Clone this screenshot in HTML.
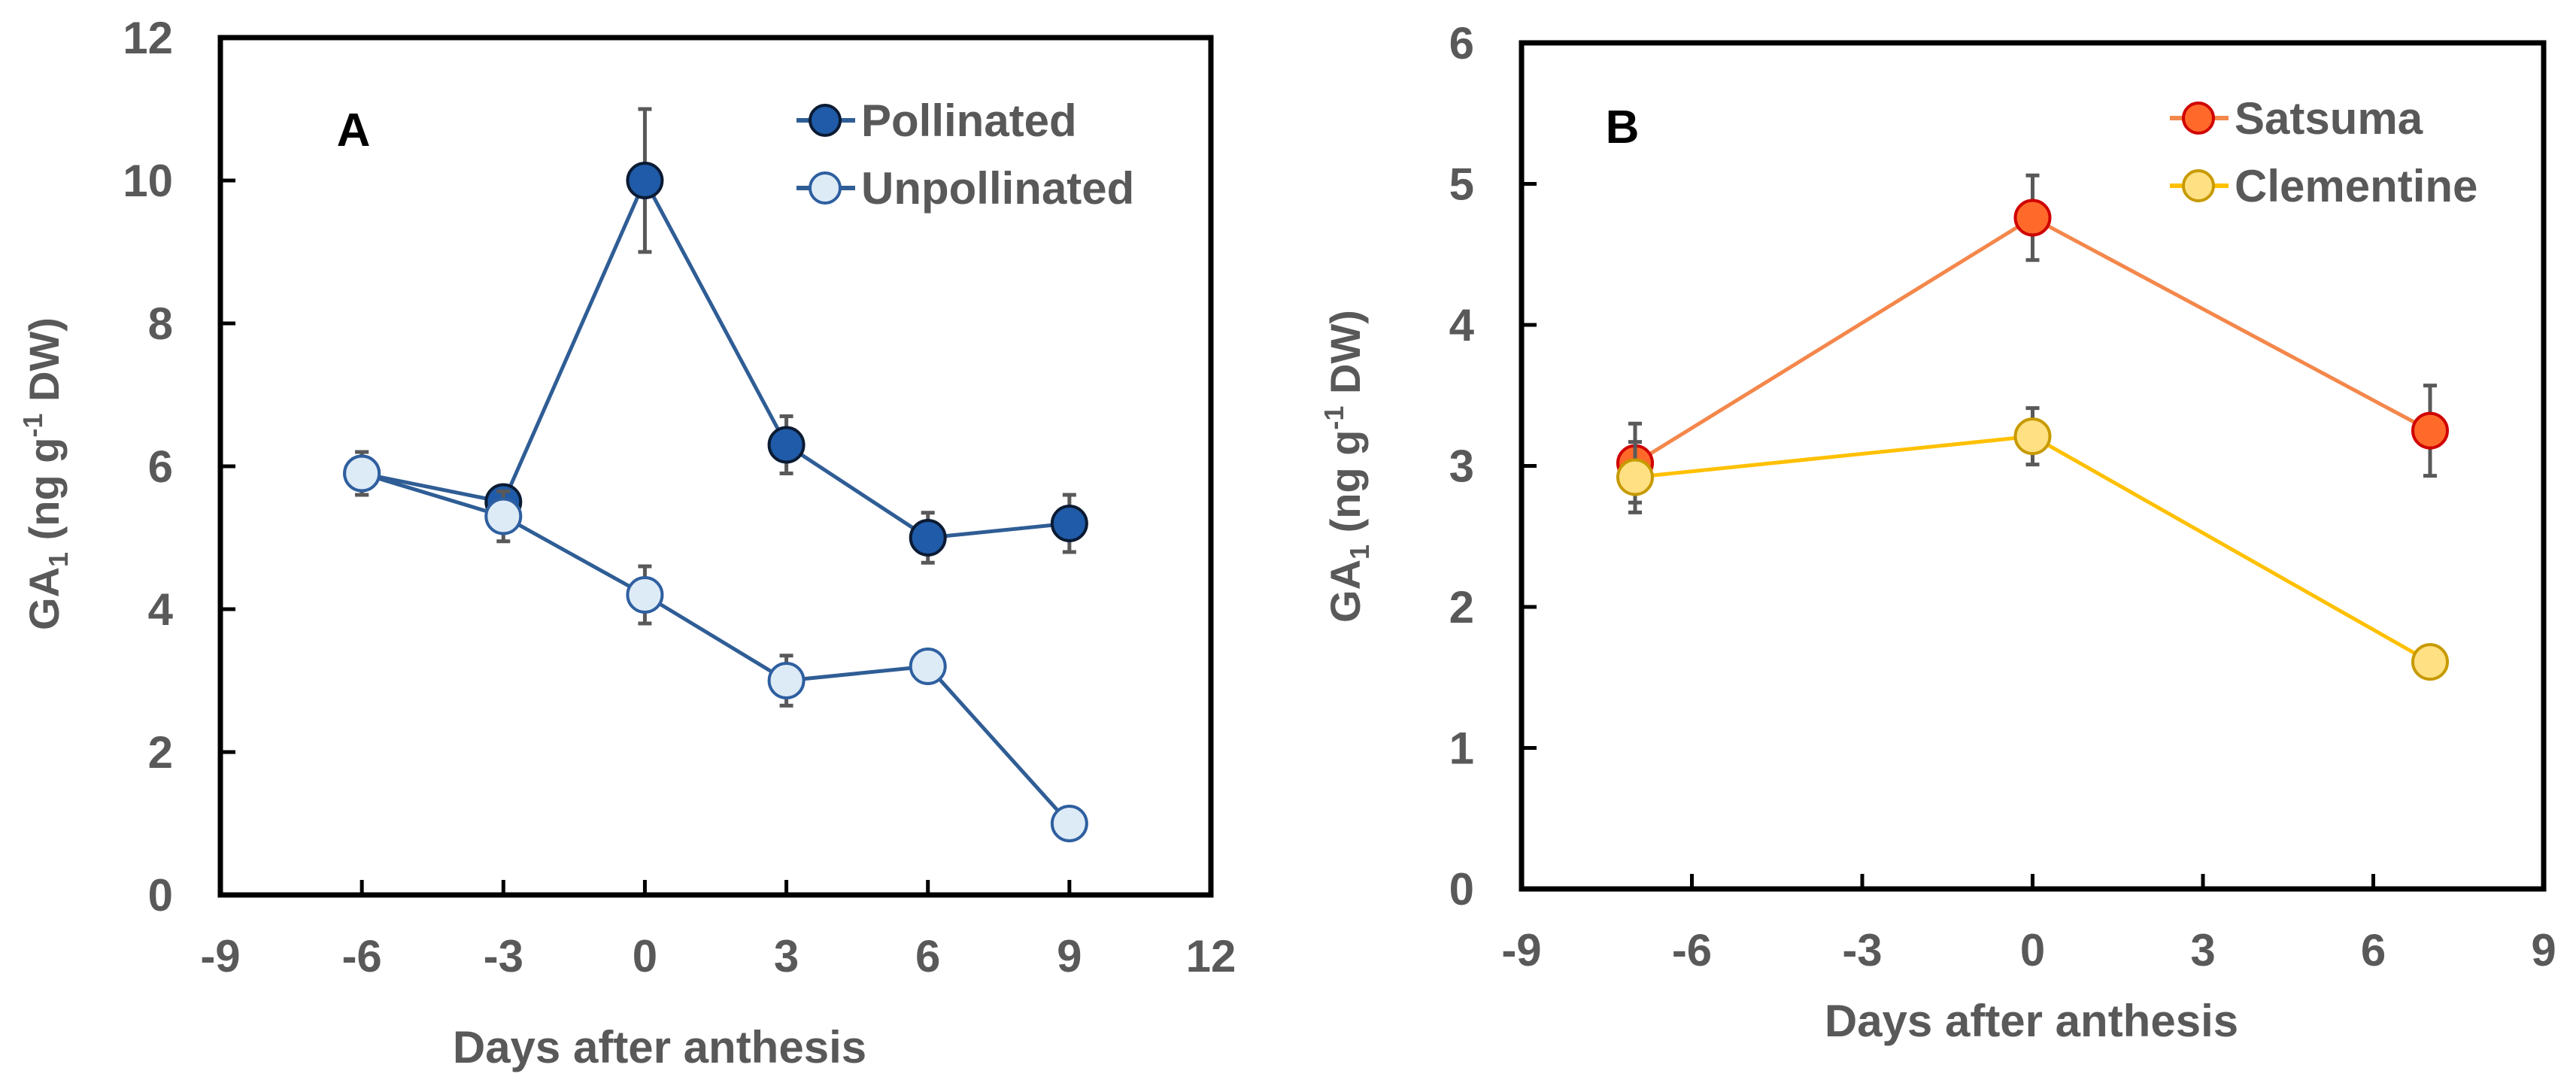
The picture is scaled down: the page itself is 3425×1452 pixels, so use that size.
<!DOCTYPE html>
<html><head><meta charset="utf-8"><style>
html,body{margin:0;padding:0;background:#fff;}
svg{display:block;font-family:"Liberation Sans",Arial,sans-serif;font-weight:bold;}
</style></head><body>
<svg id="chart" width="3425" height="1452" viewBox="0 0 3425 1452" xmlns="http://www.w3.org/2000/svg">
<g id="pA"></g>
<g id="pB"></g>
</svg>
<script>
// Panel A data
const daysA = [-6, -3, 0, 3, 6, 9];
const pollinated = [5.9, 5.5, 10.0, 6.3, 5.0, 5.2];
const pollinatedErr = [0.3, 0.15, 1.0, 0.4, 0.35, 0.4];
const unpollinated = [5.9, 5.3, 4.2, 3.0, 3.2, 1.0];
const unpollinatedErr = [0.3, 0.35, 0.4, 0.35, 0.1, 0.05];
const xTicksA = [-9, -6, -3, 0, 3, 6, 9, 12];
const yTicksA = [0, 2, 4, 6, 8, 10, 12];
// Panel B data
const daysB = [-7, 0, 7];
const satsuma = [3.02, 4.76, 3.25];
const satsumaErr = [0.28, 0.3, 0.32];
const clementine = [2.92, 3.21, 1.61];
const clementineErr = [0.25, 0.2, 0.03];
const xTicksB = [-9, -6, -3, 0, 3, 6, 9];
const yTicksB = [0, 1, 2, 3, 4, 5, 6];

const NS = "http://www.w3.org/2000/svg";
function mk(parent, tag, attrs, text) {
  const e = document.createElementNS(NS, tag);
  for (const k in attrs) e.setAttribute(k, attrs[k]);
  if (text !== undefined) e.textContent = text;
  parent.appendChild(e);
  return e;
}

function panel(g, cfg) {
  const sx = v => cfg.x0 + (v - cfg.xmin) / (cfg.xmax - cfg.xmin) * (cfg.x1 - cfg.x0);
  const sy = v => cfg.y0 - (v - cfg.ymin) / (cfg.ymax - cfg.ymin) * (cfg.y0 - cfg.y1);
  // frame
  const fr = mk(g, "rect", {x: cfg.x0, y: cfg.y1, width: cfg.x1 - cfg.x0, height: cfg.y0 - cfg.y1, fill: "none", stroke: "#000", "stroke-width": 7});
  
  
  cfg.xticks.forEach(t => {
    const x = sx(t);
    const tk = mk(g, "line", {x1: x, x2: x, y1: cfg.y0, y2: cfg.y0 - 20, stroke: "#000", "stroke-width": 5});
    
    
    const lb = mk(g, "text", {x: x, y: cfg.y0 + 102, "text-anchor": "middle", "font-size": 60, fill: "#595959"}, String(t));
    
    
  });
  cfg.yticks.forEach(t => {
    const y = sy(t);
    const tk = mk(g, "line", {x1: cfg.x0, x2: cfg.x0 + 20, y1: y, y2: y, stroke: "#000", "stroke-width": 5});
    
    
    const lb = mk(g, "text", {x: cfg.x0 - 63, y: y + 21, "text-anchor": "end", "font-size": 60, fill: "#595959"}, String(t));
    
    
  });
  const xt = mk(g, "text", {x: cfg.xtx, y: cfg.xty, "text-anchor": "middle", "font-size": 60, fill: "#595959"}, "Days after anthesis");
  
  
  const yt = mk(g, "text", {transform: `translate(${cfg.ytx},${cfg.yty}) rotate(-90)`, "text-anchor": "middle", "font-size": 56, fill: "#595959"});
  
  
  mk(yt, "tspan", {}, "GA");
  mk(yt, "tspan", {"font-size": 36, dy: 12}, "1");
  mk(yt, "tspan", {dy: -12}, " (ng g");
  mk(yt, "tspan", {"font-size": 36, dy: -22}, "-1");
  mk(yt, "tspan", {dy: 22}, " DW)");
  const pl = mk(g, "text", {x: cfg.lblx, y: cfg.lbly, "text-anchor": "middle", "font-size": 62, fill: "#000"}, cfg.label);
  
  

  cfg.series.forEach(s => {
    const sg = mk(g, "g", {});
    
    
    const pts = cfg.xs.map((d, i) => sx(d) + "," + sy(s.vals[i])).join(" ");
    const ln = mk(sg, "polyline", {points: pts, fill: "none", stroke: s.line, "stroke-width": 5});
    
    
    cfg.xs.forEach((d, i) => {
      const x = sx(d), yh = sy(s.vals[i] + s.err[i]), yl = sy(s.vals[i] - s.err[i]);
      const eb = mk(sg, "path", {d: `M${x},${yh}V${yl}M${x-9},${yh}H${x+9}M${x-9},${yl}H${x+9}`, stroke: "#595959", "stroke-width": 5, fill: "none"});
      
      
    });
    cfg.xs.forEach((d, i) => {
      const c = mk(sg, "circle", {cx: sx(d), cy: sy(s.vals[i]), r: 23, fill: s.fill, stroke: s.stroke, "stroke-width": 4});
      
      
    });
  });
  cfg.series.forEach((s, i) => {
    const y = cfg.legy + i * cfg.legdy;
    const lg = mk(g, "g", {});
    
    
    mk(lg, "line", {x1: cfg.legx - 38, x2: cfg.legx + 40, y1: y, y2: y, stroke: s.line, "stroke-width": 6});
    mk(lg, "circle", {cx: cfg.legx, cy: y, r: 20, fill: s.fill, stroke: s.stroke, "stroke-width": 4});
    mk(lg, "text", {x: cfg.legx + 48, y: y + 21, "font-size": 60, fill: "#595959"}, s.name);
  });
}

panel(document.getElementById("pA"), {
  x0: 293, x1: 1610, y0: 1190, y1: 50, xmin: -9, xmax: 12, ymin: 0, ymax: 12,
  xticks: xTicksA, yticks: yTicksA, xs: daysA,
  xtx: 877, xty: 1413, ytx: 78, yty: 630, label: "A", lblx: 470, lbly: 194,
  legx: 1097, legy: 160, legdy: 90,
  series: [
    {key: "pollinated", name: "Pollinated", vals: pollinated, err: pollinatedErr, line: "#2F5D95", fill: "#1F5BA8", stroke: "#0B1B33"},
    {key: "unpollinated", name: "Unpollinated", vals: unpollinated, err: unpollinatedErr, line: "#2F5D95", fill: "#DDEBF7", stroke: "#2E5FA0"}
  ]
});
panel(document.getElementById("pB"), {
  x0: 2023, x1: 3382, y0: 1182, y1: 57, xmin: -9, xmax: 9, ymin: 0, ymax: 6,
  xticks: xTicksB, yticks: yTicksB, xs: daysB,
  xtx: 2701, xty: 1378, ytx: 1808, yty: 620, label: "B", lblx: 2157, lbly: 190,
  legx: 2923, legy: 157, legdy: 90,
  series: [
    {key: "satsuma", name: "Satsuma", vals: satsuma, err: satsumaErr, line: "#F4874B", fill: "#FF6A2A", stroke: "#D00000"},
    {key: "clementine", name: "Clementine", vals: clementine, err: clementineErr, line: "#FFC000", fill: "#FFE083", stroke: "#C79A00"}
  ]
});
</script>
</body></html>
